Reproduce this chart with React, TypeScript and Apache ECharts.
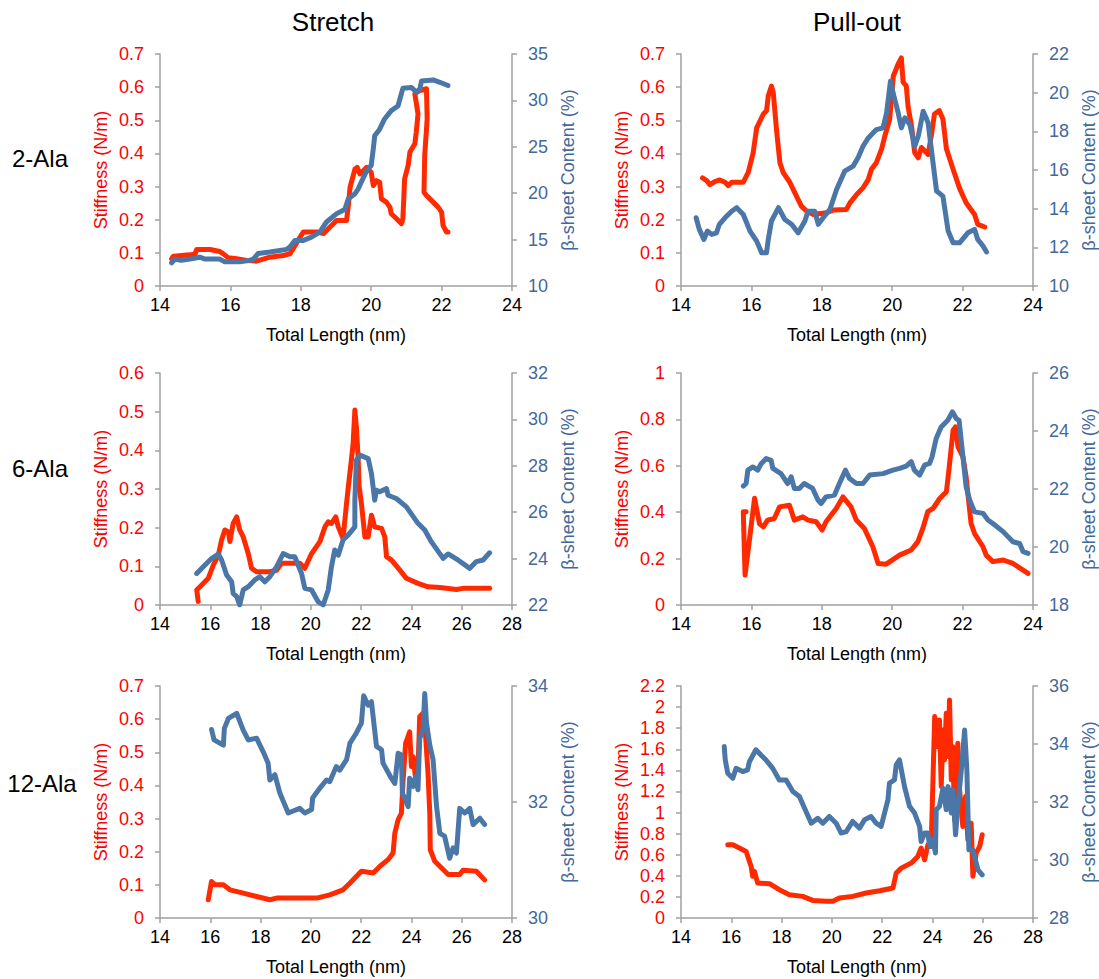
import React, { useEffect, useRef } from "react";
import * as echarts from "echarts";

// ---------- Data ----------
const columnTitles = ["Stretch", "Pull-out"];
const rowLabels = ["2-Ala", "6-Ala", "12-Ala"];
const xAxisName = "Total Length (nm)";
const leftAxisName = "Stiffness (N/m)";
const rightAxisName = "β-sheet Content (%)";

// Stretch, 2-Ala
const stretch2Stiff = [
  [14.33, 0.082], [14.38, 0.09], [14.85, 0.094], [15.0, 0.097], [15.04, 0.11], [15.42, 0.11], [15.7, 0.104],
  [15.8, 0.097], [15.94, 0.085], [16.18, 0.082], [16.46, 0.077], [16.74, 0.075], [17.12, 0.087], [17.5, 0.092],
  [17.69, 0.097], [17.88, 0.13], [18.07, 0.163], [18.45, 0.163], [18.65, 0.158], [18.83, 0.178], [19.02, 0.198],
  [19.3, 0.198], [19.35, 0.243], [19.4, 0.298], [19.54, 0.353], [19.6, 0.358], [19.68, 0.338], [19.78, 0.348],
  [19.87, 0.358], [20.0, 0.343], [20.06, 0.303], [20.15, 0.318], [20.24, 0.313], [20.29, 0.263], [20.43, 0.253],
  [20.53, 0.238], [20.57, 0.218], [20.72, 0.203], [20.86, 0.188], [20.9, 0.203], [20.95, 0.323], [21.05, 0.364],
  [21.1, 0.404], [21.24, 0.429], [21.28, 0.464], [21.33, 0.519], [21.24, 0.58], [21.38, 0.59], [21.57, 0.595],
  [21.59, 0.504], [21.52, 0.394], [21.5, 0.283], [21.57, 0.273], [21.76, 0.253], [21.9, 0.238], [22.0, 0.223],
  [22.04, 0.183], [22.14, 0.163], [22.18, 0.163],
];
const stretch2Beta = [
  [14.33, 12.5], [14.43, 12.9], [14.6, 12.76], [14.85, 12.9], [15.13, 13.1], [15.28, 12.9], [15.7, 12.9],
  [15.84, 12.6], [16.27, 12.6], [16.55, 12.76], [16.65, 12.9], [16.79, 13.5], [17.12, 13.66], [17.6, 13.95],
  [17.69, 14.2], [17.83, 14.9], [18.07, 14.9], [18.3, 15.27], [18.54, 15.8], [18.73, 16.9], [19.02, 17.8],
  [19.25, 18.25], [19.35, 19.4], [19.54, 19.94], [19.63, 20.47], [19.72, 21.2], [19.87, 22.4], [20.0, 23.0],
  [20.06, 24.8], [20.1, 26.2], [20.24, 26.9], [20.38, 28.0], [20.57, 28.9], [20.76, 29.4], [20.9, 31.3],
  [21.14, 31.4], [21.28, 30.9], [21.38, 31.2], [21.43, 32.1], [21.76, 32.2], [21.95, 31.95], [22.18, 31.6],
];

// Pull-out, 2-Ala
const pull2Stiff = [
  [14.61, 0.326], [14.73, 0.318], [14.82, 0.306], [14.96, 0.315], [15.1, 0.32], [15.25, 0.313], [15.34, 0.303],
  [15.44, 0.313], [15.77, 0.313], [15.91, 0.343], [16.05, 0.402], [16.15, 0.477], [16.34, 0.519], [16.43, 0.529],
  [16.48, 0.574], [16.57, 0.603], [16.62, 0.585], [16.72, 0.464], [16.81, 0.372], [16.9, 0.343], [17.09, 0.313],
  [17.28, 0.271], [17.42, 0.241], [17.57, 0.226], [17.76, 0.216], [18.13, 0.221], [18.32, 0.229], [18.7, 0.231],
  [18.8, 0.251], [18.99, 0.276], [19.17, 0.296], [19.32, 0.321], [19.41, 0.352], [19.55, 0.372], [19.7, 0.414],
  [19.79, 0.452], [19.93, 0.504], [20.03, 0.633], [20.17, 0.67], [20.26, 0.688], [20.31, 0.615], [20.4, 0.604],
  [20.45, 0.542], [20.55, 0.482], [20.64, 0.402], [20.74, 0.387], [20.83, 0.418], [21.02, 0.397], [21.11, 0.452],
  [21.2, 0.519], [21.34, 0.529], [21.44, 0.504], [21.54, 0.414], [21.73, 0.352], [21.92, 0.293], [22.1, 0.251],
  [22.34, 0.216], [22.43, 0.186], [22.63, 0.178],
];
const pull2Beta = [
  [14.43, 13.53], [14.52, 12.93], [14.65, 12.41], [14.75, 12.84], [14.87, 12.67], [15.01, 12.75], [15.09, 13.19],
  [15.25, 13.53], [15.44, 13.87], [15.58, 14.05], [15.77, 13.7], [15.96, 12.84], [16.15, 12.32], [16.29, 11.72],
  [16.43, 11.72], [16.48, 12.41], [16.57, 13.36], [16.77, 14.05], [16.95, 13.44], [17.14, 13.19], [17.33, 12.75],
  [17.52, 13.36], [17.61, 13.87], [17.8, 13.87], [17.9, 13.19], [18.04, 13.53], [18.23, 13.96], [18.42, 14.99],
  [18.65, 15.94], [18.89, 16.2], [19.03, 16.63], [19.17, 17.23], [19.32, 17.66], [19.55, 18.09], [19.74, 18.18],
  [19.84, 18.95], [19.95, 20.59], [20.05, 19.81], [20.17, 18.95], [20.26, 18.18], [20.36, 18.7], [20.5, 18.35],
  [20.64, 17.23], [20.74, 17.75], [20.88, 19.04], [21.02, 18.44], [21.16, 16.37], [21.26, 14.91], [21.44, 14.65],
  [21.59, 12.84], [21.73, 12.24], [21.92, 12.24], [22.15, 12.75], [22.34, 12.93], [22.43, 12.41], [22.58, 12.07],
  [22.68, 11.76],
];

// Stretch, 6-Ala
const stretch6Stiff = [
  [15.52, 0.009], [15.46, 0.039], [15.66, 0.052], [15.92, 0.069], [16.12, 0.103], [16.32, 0.129], [16.45, 0.168],
  [16.58, 0.194], [16.72, 0.189], [16.78, 0.164], [16.91, 0.211], [17.05, 0.228], [17.17, 0.194], [17.31, 0.176],
  [17.51, 0.133], [17.64, 0.095], [17.84, 0.086], [18.37, 0.086], [18.64, 0.09], [18.83, 0.108], [19.56, 0.108],
  [19.76, 0.095], [20.03, 0.133], [20.36, 0.164], [20.56, 0.202], [20.69, 0.215], [20.82, 0.211], [20.99, 0.228],
  [21.09, 0.202], [21.28, 0.172], [21.42, 0.263], [21.52, 0.323], [21.61, 0.374], [21.68, 0.417], [21.75, 0.504],
  [21.81, 0.461], [21.88, 0.383], [21.92, 0.306], [22.01, 0.263], [22.15, 0.176], [22.28, 0.176], [22.41, 0.232],
  [22.54, 0.202], [22.81, 0.198], [22.94, 0.176], [23.01, 0.125], [23.21, 0.116], [23.54, 0.09], [23.8, 0.069],
  [24.26, 0.056], [24.66, 0.047], [25.13, 0.045], [25.79, 0.04], [26.05, 0.043], [27.11, 0.043],
];
const stretch6Beta = [
  [15.46, 23.36], [15.79, 23.72], [16.05, 24.0], [16.32, 24.2], [16.45, 23.94], [16.65, 23.29], [16.85, 23.0],
  [16.91, 22.5], [17.05, 22.36], [17.17, 22.0], [17.31, 22.65], [17.51, 22.79], [17.77, 23.08], [17.97, 23.22],
  [18.17, 23.0], [18.37, 23.22], [18.64, 23.65], [18.9, 24.22], [19.17, 24.08], [19.36, 24.08], [19.63, 23.36],
  [19.76, 22.72], [20.03, 22.65], [20.29, 22.14], [20.49, 22.0], [20.69, 22.65], [20.82, 23.65], [20.95, 24.37],
  [21.09, 24.15], [21.28, 24.8], [21.48, 25.01], [21.75, 25.37], [21.75, 26.52], [21.81, 28.24], [21.95, 28.46],
  [22.28, 28.31], [22.41, 27.67], [22.54, 26.52], [22.61, 26.95], [22.74, 26.88], [23.01, 27.02], [23.07, 26.73],
  [23.4, 26.59], [23.8, 26.23], [24.26, 25.52], [24.53, 25.23], [24.79, 24.73], [25.26, 24.01], [25.46, 24.2],
  [25.85, 23.94], [26.32, 23.58], [26.58, 23.87], [26.85, 23.94], [27.11, 24.25],
];

// Pull-out, 6-Ala
const pull6Stiff = [
  [15.77, 0.402], [15.85, 0.402], [15.77, 0.4], [15.82, 0.129], [16.09, 0.46], [16.23, 0.35], [16.34, 0.337],
  [16.46, 0.366], [16.65, 0.373], [16.8, 0.423], [17.08, 0.43], [17.22, 0.366], [17.46, 0.38], [17.61, 0.366],
  [17.84, 0.359], [18.01, 0.323], [18.12, 0.359], [18.41, 0.416], [18.6, 0.466], [18.83, 0.423], [18.98, 0.366],
  [19.21, 0.33], [19.45, 0.251], [19.6, 0.179], [19.83, 0.176], [20.21, 0.215], [20.54, 0.237], [20.73, 0.273],
  [20.87, 0.33], [21.01, 0.402], [21.16, 0.416], [21.35, 0.459], [21.54, 0.488], [21.61, 0.581], [21.73, 0.753],
  [21.8, 0.768], [21.87, 0.681], [22.01, 0.638], [22.1, 0.552], [22.24, 0.352], [22.34, 0.308], [22.58, 0.251],
  [22.67, 0.215], [22.86, 0.187], [23.15, 0.194], [23.43, 0.179], [23.86, 0.136],
];
const pull6Beta = [
  [15.77, 22.1], [15.85, 22.19], [15.9, 22.65], [16.04, 22.76], [16.18, 22.65], [16.27, 22.86], [16.42, 23.05],
  [16.56, 22.99], [16.61, 22.71], [16.84, 22.53], [17.03, 22.19], [17.13, 22.42], [17.22, 22.02], [17.36, 22.02],
  [17.5, 22.19], [17.74, 22.02], [17.89, 21.62], [17.98, 21.5], [18.12, 21.73], [18.36, 21.79], [18.5, 22.19],
  [18.67, 22.65], [18.79, 22.36], [18.98, 22.19], [19.17, 22.19], [19.36, 22.48], [19.74, 22.53], [20.02, 22.65],
  [20.21, 22.71], [20.4, 22.79], [20.54, 22.94], [20.63, 22.65], [20.78, 22.48], [20.92, 22.82], [21.06, 22.88],
  [21.13, 23.1], [21.25, 23.74], [21.39, 24.14], [21.58, 24.37], [21.71, 24.66], [21.82, 24.43], [21.9, 24.37],
  [22.01, 23.11], [22.1, 22.07], [22.2, 21.62], [22.34, 21.21], [22.58, 21.16], [22.72, 20.93], [22.86, 20.81],
  [23.15, 20.53], [23.43, 20.18], [23.62, 20.12], [23.72, 19.84], [23.86, 19.78],
];

// Stretch, 12-Ala
const stretch12Stiff = [
  [15.92, 0.055], [16.05, 0.11], [16.19, 0.1], [16.52, 0.1], [16.78, 0.085], [17.31, 0.075], [17.84, 0.065],
  [18.37, 0.055], [18.64, 0.06], [20.23, 0.06], [20.75, 0.07], [21.28, 0.085], [21.55, 0.105], [22.01, 0.141],
  [22.48, 0.136], [22.75, 0.156], [23.07, 0.176], [23.27, 0.196], [23.34, 0.256], [23.47, 0.296], [23.6, 0.316],
  [23.67, 0.417], [23.77, 0.527], [23.93, 0.562], [24.0, 0.457], [24.07, 0.487], [24.17, 0.417], [24.26, 0.447],
  [24.33, 0.608], [24.46, 0.618], [24.53, 0.588], [24.66, 0.437], [24.73, 0.316], [24.75, 0.206], [24.93, 0.171],
  [25.13, 0.156], [25.46, 0.131], [25.92, 0.131], [26.05, 0.144], [26.58, 0.141], [26.91, 0.115],
];
const stretch12Beta = [
  [16.05, 33.25], [16.15, 33.07], [16.52, 32.98], [16.56, 33.27], [16.72, 33.44], [17.05, 33.53], [17.31, 33.24],
  [17.51, 33.07], [17.84, 33.1], [18.1, 32.87], [18.3, 32.67], [18.37, 32.38], [18.57, 32.47], [18.77, 32.15],
  [19.1, 31.81], [19.56, 31.89], [19.76, 31.81], [20.03, 31.87], [20.07, 32.07], [20.36, 32.24], [20.62, 32.38],
  [20.75, 32.35], [21.01, 32.61], [21.15, 32.55], [21.42, 32.73], [21.55, 33.01], [21.81, 33.19], [22.01, 33.36],
  [22.1, 33.83], [22.28, 33.67], [22.41, 33.73], [22.61, 32.96], [22.81, 32.9], [22.87, 32.67], [23.2, 32.41],
  [23.34, 32.32], [23.47, 32.84], [23.6, 32.81], [23.64, 32.15], [23.73, 32.07], [23.87, 31.92], [23.93, 32.41],
  [24.07, 32.27], [24.17, 32.44], [24.26, 32.21], [24.33, 33.1], [24.46, 33.24], [24.53, 33.87], [24.6, 33.36],
  [24.73, 32.98], [24.86, 32.73], [25.0, 31.92], [25.13, 31.46], [25.32, 31.41], [25.52, 31.03], [25.66, 31.21],
  [25.79, 31.12], [25.92, 31.89], [26.12, 31.81], [26.32, 31.89], [26.45, 31.61], [26.72, 31.72], [26.91, 31.61],
];

// Pull-out, 12-Ala
const pull12Stiff = [
  [15.86, 0.694], [16.06, 0.694], [16.32, 0.663], [16.59, 0.631], [16.79, 0.489], [16.85, 0.395], [16.92, 0.442],
  [17.05, 0.331], [17.52, 0.325], [17.91, 0.268], [18.31, 0.221], [18.84, 0.205], [19.24, 0.167], [19.77, 0.158],
  [20.04, 0.158], [20.3, 0.189], [20.83, 0.205], [21.36, 0.237], [21.9, 0.259], [22.43, 0.284], [22.56, 0.426],
  [22.76, 0.473], [23.16, 0.521], [23.42, 0.584], [23.55, 0.663], [23.69, 0.552], [23.82, 0.694], [23.95, 0.679],
  [24.09, 1.91], [24.22, 1.626], [24.28, 1.878], [24.35, 1.247], [24.42, 1.783], [24.48, 1.499], [24.55, 1.941],
  [24.62, 1.531], [24.68, 2.068], [24.75, 1.31], [24.81, 1.626], [24.88, 0.931], [25.01, 1.657], [25.08, 1.215],
  [25.21, 0.868], [25.32, 1.152], [25.41, 0.742], [25.54, 0.9], [25.61, 0.395], [25.74, 0.616], [25.88, 0.679],
  [25.98, 0.789],
];
const pull12Beta = [
  [15.72, 33.91], [15.76, 33.45], [15.86, 32.99], [16.06, 32.82], [16.19, 33.16], [16.45, 33.05], [16.65, 33.11],
  [16.72, 33.39], [16.98, 33.8], [17.18, 33.62], [17.38, 33.45], [17.65, 33.16], [17.91, 32.76], [18.18, 32.76],
  [18.45, 32.36], [18.71, 32.19], [18.91, 31.79], [19.18, 31.27], [19.44, 31.44], [19.64, 31.27], [19.9, 31.5],
  [20.17, 31.27], [20.37, 30.93], [20.57, 30.98], [20.83, 31.33], [21.1, 31.1], [21.3, 31.39], [21.56, 31.5],
  [21.76, 31.27], [21.96, 31.16], [22.23, 32.07], [22.29, 32.65], [22.49, 32.76], [22.56, 33.28], [22.69, 33.45],
  [22.89, 32.53], [23.09, 31.85], [23.29, 31.62], [23.49, 31.16], [23.55, 30.64], [23.69, 30.93], [23.82, 30.93],
  [23.89, 30.47], [24.02, 30.7], [24.12, 30.24], [24.15, 31.73], [24.28, 31.85], [24.42, 32.48], [24.55, 31.73],
  [24.62, 32.53], [24.75, 31.62], [24.81, 32.42], [24.92, 30.87], [25.01, 31.85], [25.15, 33.11], [25.28, 34.48],
  [25.37, 33.11], [25.45, 30.35], [25.61, 30.35], [25.81, 29.66], [25.98, 29.49],
];

// Axis ranges: [min, max, interval]
const xRanges = [[14, 24, 2], [14, 24, 2], [14, 28, 2], [14, 24, 2], [14, 28, 2], [14, 28, 2]];
const leftRanges = [[0, 0.7, 0.1], [0, 0.7, 0.1], [0, 0.6, 0.1], [0, 1, 0.2], [0, 0.7, 0.1], [0, 2.2, 0.2]];
const rightRanges = [[10, 35, 5], [10, 22, 2], [22, 32, 2], [18, 26, 2], [30, 34, 2], [28, 36, 2]];
const stiffSeries = [stretch2Stiff, pull2Stiff, stretch6Stiff, pull6Stiff, stretch12Stiff, pull12Stiff];
const betaSeries = [stretch2Beta, pull2Beta, stretch6Beta, pull6Beta, stretch12Beta, pull12Beta];

// ---------- Layout / style ----------
const FONT = "'Liberation Sans', Arial, Helvetica, sans-serif";
const RED = "#ff2a00";
const RED_TEXT = "#ff0000";
const BLUE = "#4a76a8";
const BLUE_TEXT = "#44699c";
const AXIS_GREY = "#a0a0a0";
const colLefts = [160, 681];
const rowTops = [54, 373, 686];
const GRID_W = 352;
const GRID_H = 232;

function buildOption() {
  const grids: any[] = [];
  const xAxes: any[] = [];
  const yAxes: any[] = [];
  const series: any[] = [];
  const axisLine = { show: true, lineStyle: { color: AXIS_GREY, width: 1.5 } };
  const tick = { show: true, length: 5, lineStyle: { color: AXIS_GREY, width: 1.5 } };
  for (let i = 0; i < 6; i++) {
    const r = Math.floor(i / 2);
    const c = i % 2;
    grids.push({ left: colLefts[c], top: rowTops[r], width: GRID_W, height: GRID_H, containLabel: false });
    const [xmin, xmax, xint] = xRanges[i];
    xAxes.push({
      type: "value", gridIndex: i, min: xmin, max: xmax, interval: xint,
      name: xAxisName, nameLocation: "middle", nameGap: 40,
      nameTextStyle: { fontFamily: FONT, fontSize: 18, color: "#000" },
      axisLine, axisTick: tick, splitLine: { show: false },
      axisLabel: { fontFamily: FONT, fontSize: 18, color: "#000", margin: 10 },
    });
    const [lmin, lmax, lint] = leftRanges[i];
    yAxes.push({
      type: "value", gridIndex: i, position: "left", min: lmin, max: lmax, interval: lint,
      name: leftAxisName, nameLocation: "middle", nameGap: 50, nameRotate: 90,
      nameTextStyle: { fontFamily: FONT, fontSize: 18, color: RED_TEXT },
      axisLine, axisTick: tick, splitLine: { show: false },
      axisLabel: {
        fontFamily: FONT, fontSize: 18, color: RED_TEXT, margin: 16,
        formatter: (v: number) => String(Math.round(v * 10) / 10),
      },
    });
    const [rmin, rmax, rint] = rightRanges[i];
    yAxes.push({
      type: "value", gridIndex: i, position: "right", min: rmin, max: rmax, interval: rint,
      name: rightAxisName, nameLocation: "middle", nameGap: 47, nameRotate: 90,
      nameTextStyle: { fontFamily: FONT, fontSize: 18, color: BLUE_TEXT },
      axisLine, axisTick: tick, splitLine: { show: false },
      axisLabel: { fontFamily: FONT, fontSize: 18, color: BLUE_TEXT, margin: 16 },
    });
    series.push({
      type: "line", xAxisIndex: i, yAxisIndex: i * 2, data: stiffSeries[i],
      showSymbol: false, symbol: "none", smooth: false,
      lineStyle: { color: RED, width: 5, join: "round", cap: "round" }, z: 2,
    });
    series.push({
      type: "line", xAxisIndex: i, yAxisIndex: i * 2 + 1, data: betaSeries[i],
      showSymbol: false, symbol: "none", smooth: false,
      lineStyle: { color: BLUE, width: 5, join: "round", cap: "round" }, z: 3,
    });
  }
  const graphic: any[] = [
    { type: "text", x: 333, y: 22, style: { text: columnTitles[0], font: `26px ${FONT}`, fill: "#000", textAlign: "center", textVerticalAlign: "middle" } },
    { type: "text", x: 857, y: 22, style: { text: columnTitles[1], font: `26px ${FONT}`, fill: "#000", textAlign: "center", textVerticalAlign: "middle" } },
    { type: "text", x: 40, y: 158, style: { text: rowLabels[0], font: `24px ${FONT}`, fill: "#000", textAlign: "center", textVerticalAlign: "middle" } },
    { type: "text", x: 40, y: 468, style: { text: rowLabels[1], font: `24px ${FONT}`, fill: "#000", textAlign: "center", textVerticalAlign: "middle" } },
    { type: "text", x: 42, y: 783, style: { text: rowLabels[2], font: `24px ${FONT}`, fill: "#000", textAlign: "center", textVerticalAlign: "middle" } },
    { type: "rect", z: 100, shape: { x: 90, y: 663, width: 1009, height: 12 }, style: { fill: "#fff" } },
  ];
  return {
    animation: false,
    backgroundColor: "#fff",
    grid: grids,
    xAxis: xAxes,
    yAxis: yAxes,
    series,
    graphic,
  };
}

export default function App() {
  const ref = useRef<HTMLDivElement>(null);
  useEffect(() => {
    if (!ref.current) return;
    const chart = echarts.init(ref.current, null, { renderer: "svg" });
    chart.setOption(buildOption());
    return () => chart.dispose();
  }, []);
  return (
    <div
      ref={ref}
      style={{ position: "absolute", left: 0, top: 0, width: 1099, height: 979, background: "#fff" }}
    />
  );
}
